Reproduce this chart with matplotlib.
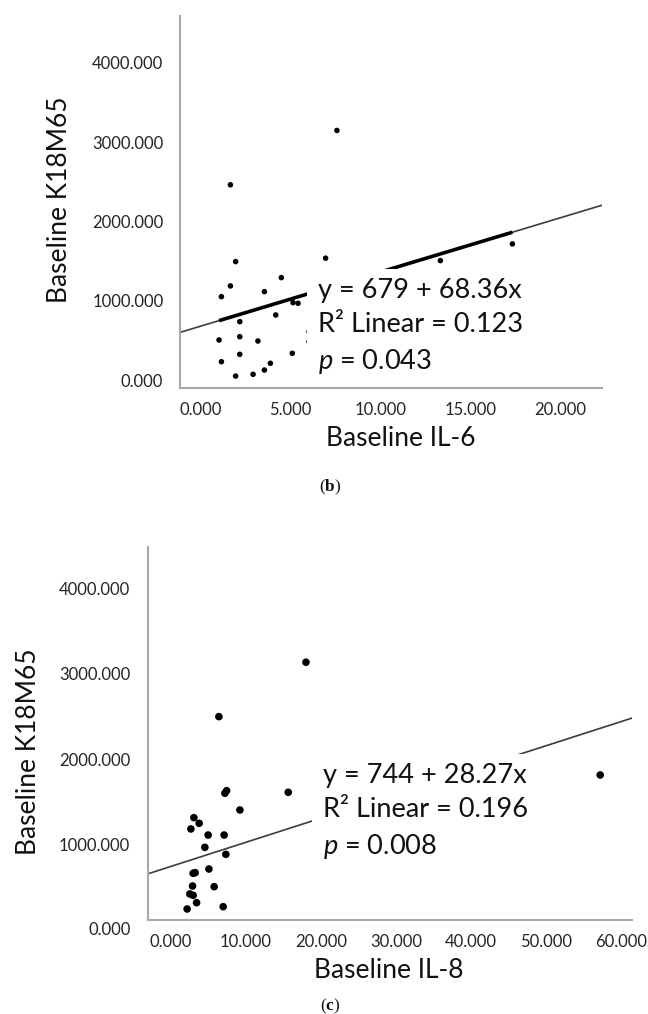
import numpy as np
import matplotlib
matplotlib.use("Agg")
import matplotlib.pyplot as plt
from matplotlib.ticker import FormatStrFormatter
from matplotlib.transforms import blended_transform_factory

plt.rcParams["font.family"] = ["Lato", "DejaVu Sans"]
plt.rcParams["mathtext.fontset"] = "custom"
plt.rcParams["mathtext.rm"] = "Lato"
plt.rcParams["mathtext.it"] = "Lato:italic"
plt.rcParams["mathtext.bf"] = "Liberation Serif:bold"

# panel (b): baseline IL-6 vs K18M65
il6 = [1.65, 7.57, 1.94, 1.65, 1.15, 3.54, 4.48, 6.94, 5.13, 5.41, 4.17, 2.17, 1.02,
       2.17, 3.18, 1.15, 2.17, 5.09, 3.87, 3.54, 2.91, 1.94, 6.02, 6.02, 13.32, 17.32]
k18_b = [2461, 3146, 1493, 1186, 1051, 1114, 1291, 1536, 975, 968, 820, 736, 505,
         546, 492, 231, 324, 337, 211, 126, 72, 50, 609, 483, 1505, 1716]
fit_b = (679, 68.36)
r2_b = 0.123
p_b = 0.043

# panel (c): baseline IL-8 vs K18M65
il8 = [6.4, 18.0, 7.43, 7.2, 15.64, 9.2, 3.07, 3.77, 2.67, 4.97, 7.1, 4.53, 7.33,
       2.97, 3.24, 5.07, 2.89, 5.77, 2.53, 2.97, 3.43, 2.17, 6.97, 57.2]
k18_c = [2498, 3135, 1631, 1601, 1612, 1405, 1315, 1249, 1183, 1112, 1112, 968, 886,
         664, 671, 714, 515, 507, 422, 406, 320, 246, 273, 1815]
fit_c = (744, 28.27)
r2_c = 0.196
p_c = 0.008

yticks = [0, 1000, 2000, 3000, 4000]
xticks_b = [0, 5, 10, 15, 20]
xticks_c = [0, 10, 20, 30, 40, 50, 60]

AXIS_GREY = "#a8a8a8"
TICK_COLOR = "#252525"

fig = plt.figure(figsize=(6.48, 10.14), dpi=100)
ax_b = fig.add_axes([0.2778, 0.6174, 0.6512, 0.3669])
ax_c = fig.add_axes([0.2289, 0.0927, 0.746, 0.3682])


def style_axes(ax, xlim, ylim, xticks, ypad):
    ax.set_xlim(*xlim)
    ax.set_ylim(*ylim)
    ax.set_xticks(xticks)
    ax.set_yticks([t for t in yticks if ylim[0] <= t <= ylim[1]])
    ax.xaxis.set_major_formatter(FormatStrFormatter("%.3f"))
    ax.yaxis.set_major_formatter(FormatStrFormatter("%.3f"))
    for side in ["top", "right"]:
        ax.spines[side].set_visible(False)
    for side in ["left", "bottom"]:
        ax.spines[side].set_color(AXIS_GREY)
        ax.spines[side].set_linewidth(1.5)
    ax.tick_params(axis="both", length=0, labelsize=12, labelcolor=TICK_COLOR)
    ax.tick_params(axis="y", pad=ypad)
    ax.tick_params(axis="x", pad=10)


def fit_text(fit, r2, p):
    return (f"y = {fit[0]} + {fit[1]:.2f}x\n"
            f"R² Linear = {r2:.3f}\n"
            f"$p$ = {p:.3f}")


def draw_panel(ax, x, y, fit, r2, p, xlim, ms, bold_fit, text_xy):
    xs = np.array(xlim)
    ax.plot(xs, fit[0] + fit[1] * xs, color="#3c3c3c", lw=1.2, zorder=1)
    if bold_fit:
        # fitted range over the observed x values
        xr = np.array([min(x), max(x)])
        ax.plot(xr, fit[0] + fit[1] * xr, color="black", lw=2.6, zorder=2,
                solid_capstyle="butt")
    ax.scatter(x, y, s=ms, color="black", edgecolors="none", zorder=2)
    ax.text(text_xy[0], text_xy[1], fit_text(fit, r2, p), transform=ax.transAxes,
            ha="left", va="center", fontsize=19.5, color="#111111", linespacing=1.45,
            zorder=3,
            bbox=dict(boxstyle="square,pad=0.4", facecolor="white", edgecolor="none"))


# panel (b)
xlim_b = (-1.15, 22.3)
style_axes(ax_b, xlim_b, (-100, 4590), xticks_b, 12)
draw_panel(ax_b, il6, k18_b, fit_b, r2_b, p_b, xlim_b, 16, True, (0.327, 0.164))
ax_b.text(0.524, -0.137, "Baseline IL-6", transform=ax_b.transAxes,
          ha="center", va="center", fontsize=19, color="#111111")
ax_b.text(-0.285, 0.505, "Baseline K18M65", transform=ax_b.transAxes, rotation=90,
          ha="center", va="center", fontsize=19, color="#111111")

# panel (c)
xlim_c = (-3.0, 61.4)
ylim_c = (117, 4488)
style_axes(ax_c, xlim_c, ylim_c, xticks_c, 13)
draw_panel(ax_c, il8, k18_c, fit_c, r2_c, p_c, xlim_c, 30, False, (0.361, 0.29))
# the 0.000 label sits just below the x axis here
trans = blended_transform_factory(ax_c.transAxes, ax_c.transData)
ax_c.text(-0.037, 0, "0.000", transform=trans, ha="right", va="center",
          fontsize=12, color=TICK_COLOR, clip_on=False)
ax_c.text(0.498, -0.134, "Baseline IL-8", transform=ax_c.transAxes,
          ha="center", va="center", fontsize=19, color="#111111")
ax_c.text(-0.248, 0.45, "Baseline K18M65", transform=ax_c.transAxes, rotation=90,
          ha="center", va="center", fontsize=19, color="#111111")

# sub-figure captions
for label, ypos in [("b", 1 - 487 / 1014), ("c", 1 - 1006 / 1014)]:
    fig.text(330 / 648, ypos, "($\\mathbf{" + label + "}$)", ha="center", va="center",
             fontsize=12.5, family="Liberation Serif", color="#111111")

fig.savefig("out.png", dpi=100, facecolor="white")
